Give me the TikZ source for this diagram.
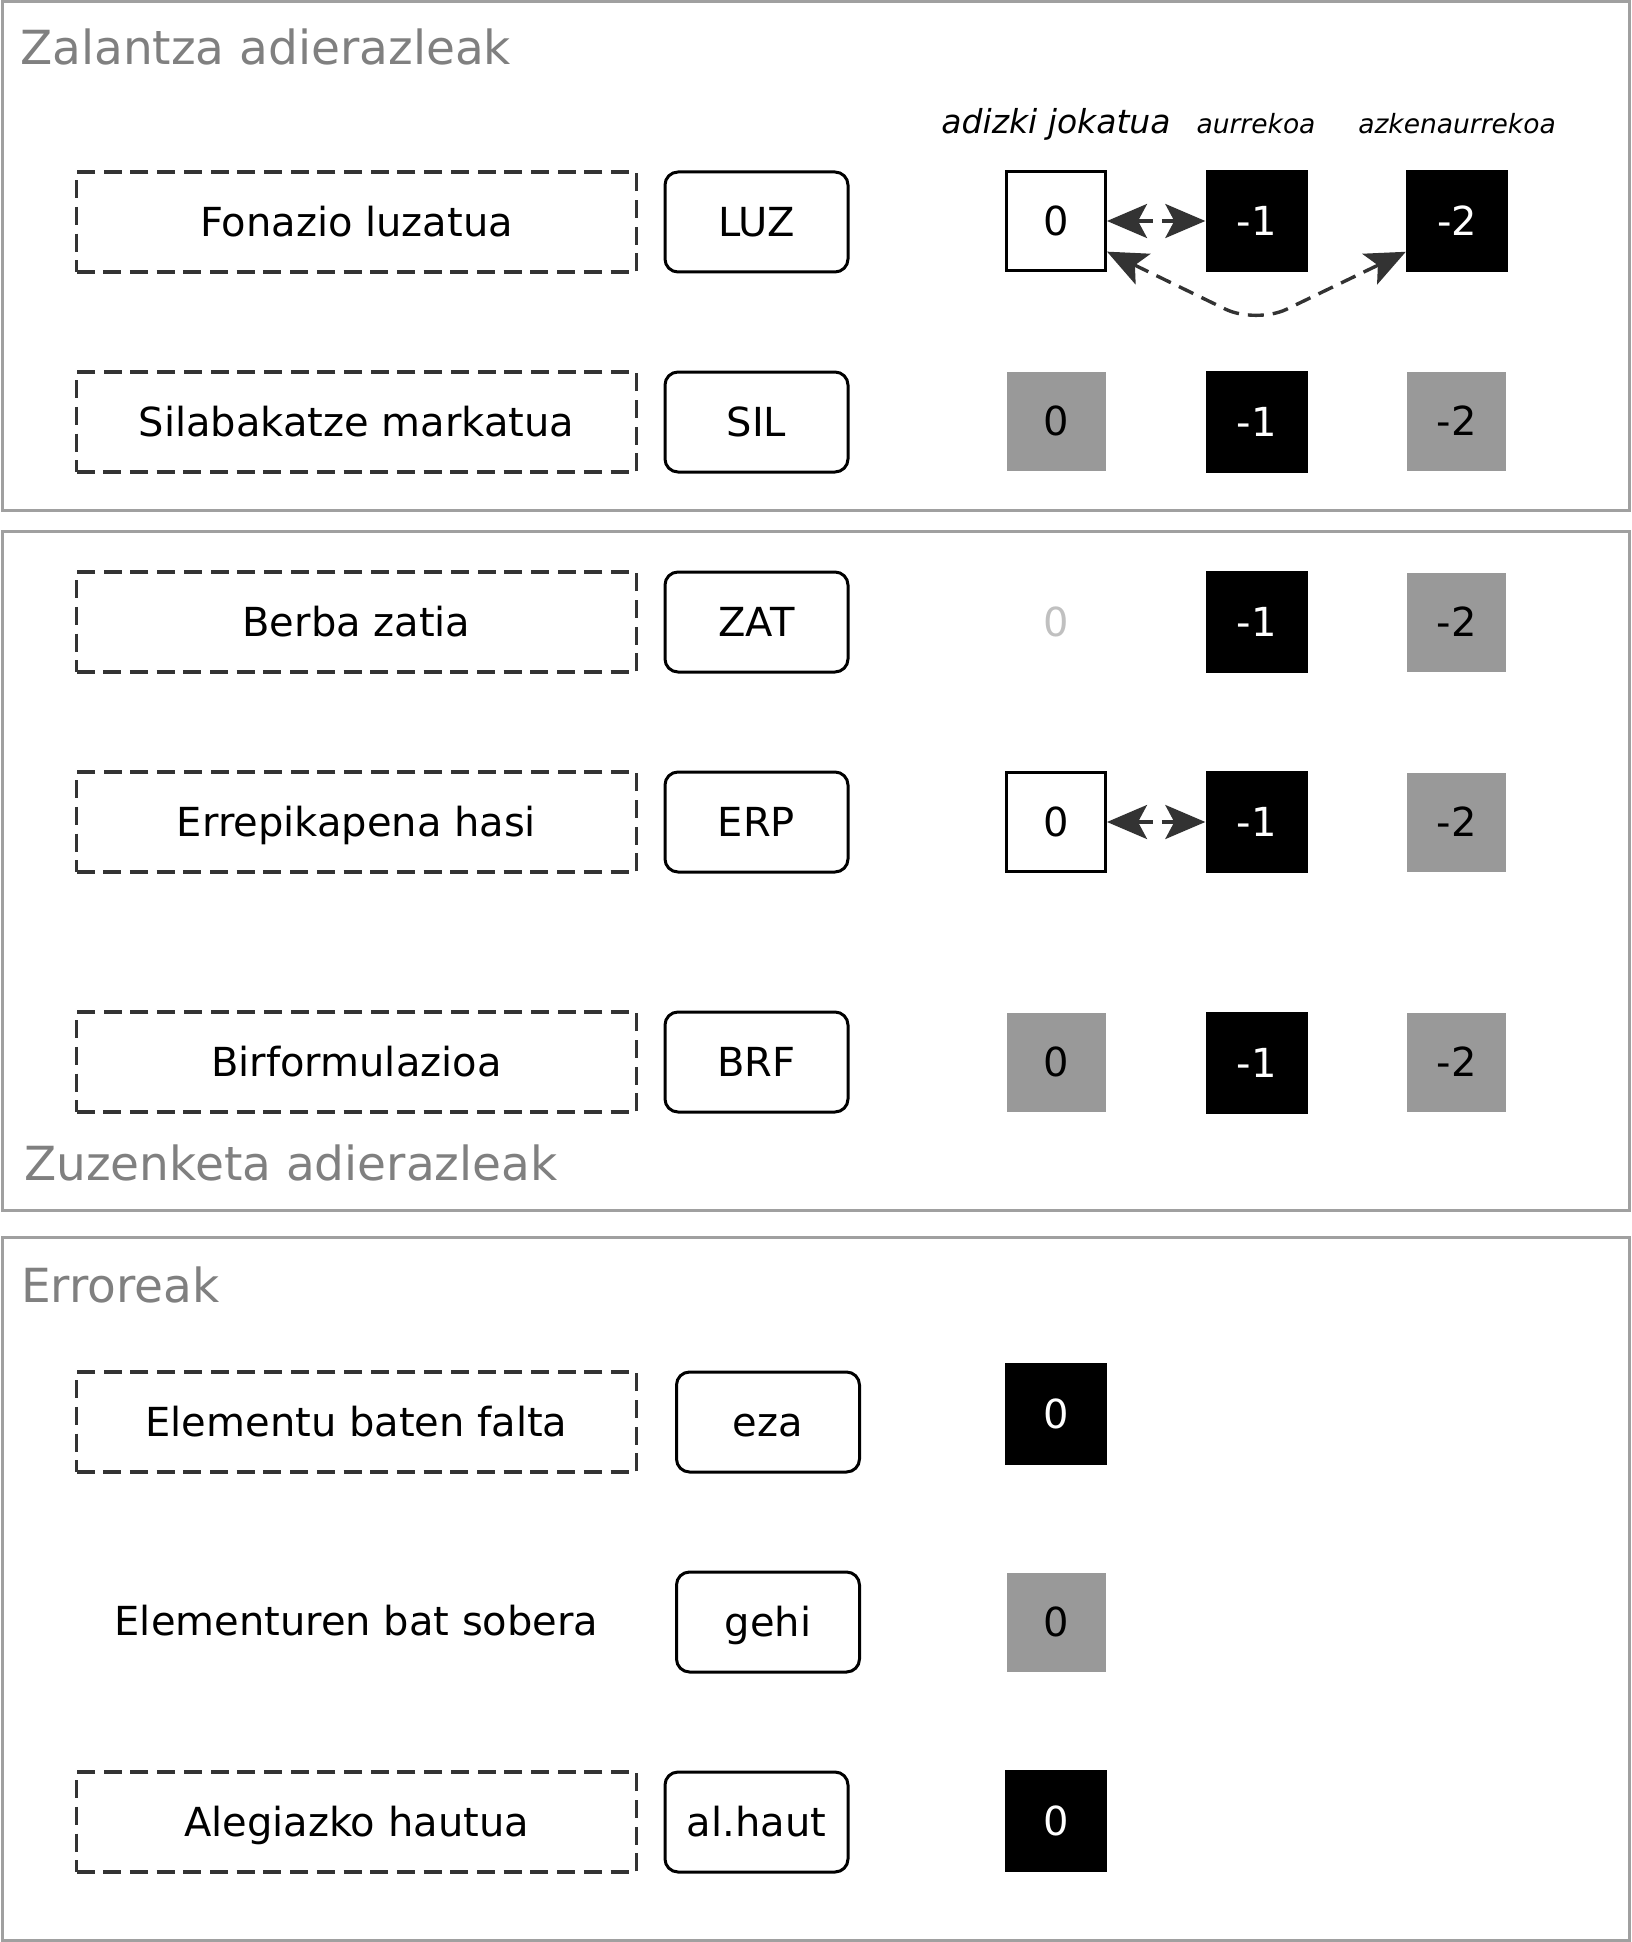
\documentclass[tikz,border=0pt]{standalone}
\usepackage{fontspec}
\setmainfont{DejaVu Sans}
\usetikzlibrary{arrows.meta}
\definecolor{secgray}{RGB}{160,160,160}
\definecolor{titlegray}{RGB}{128,128,128}
\definecolor{dashgray}{RGB}{51,51,51}
\definecolor{sqgray}{RGB}{153,153,153}
\definecolor{faint}{RGB}{192,192,192}
\begin{document}
\begin{tikzpicture}[x=1pt,y=-1pt,
  txt/.style={font=\fontsize{40}{48}\selectfont, inner sep=0pt, text height=29.2pt, text depth=0pt},
  sectitle/.style={font=\fontsize{47}{56}\selectfont, text=titlegray, inner sep=0pt, anchor=base west},
  colhead/.style={font=\fontsize{33}{40}\selectfont\itshape, inner sep=0pt, anchor=base},
  subhead/.style={font=\fontsize{26.5}{32}\selectfont\itshape, inner sep=0pt, anchor=base},
  secbox/.style={draw=secgray, line width=3pt},
  lbl/.style={txt, draw=dashgray, line width=3.2pt, dash pattern=on 18pt off 8.7pt, minimum width=560pt, minimum height=100pt},
  codebox/.style={txt, draw=black, line width=3pt, rounded corners=13pt, minimum width=183pt, minimum height=100pt},
  blk/.style={txt, fill=black, text=white, minimum size=102pt},
  gry/.style={txt, fill=sqgray, text=black, minimum size=99pt},
  wht/.style={txt, draw=black, line width=3pt, fill=white, minimum size=99pt},
  arr/.style={draw=dashgray, line width=3.4pt, dash pattern=on 16pt off 9pt,
    {Stealth[length=40pt,width=34pt,inset=9pt,fill=dashgray]}-{Stealth[length=40pt,width=34pt,inset=9pt,fill=dashgray]}}
]
\useasboundingbox (0,0) rectangle (1631,1942);
% section frames
\draw[secbox] (2,2) rectangle (1629,510);
\draw[secbox] (2,531) rectangle (1629,1210);
\draw[secbox] (2,1237) rectangle (1629,1940);
% section titles
\node[sectitle] (t1) at (20,65) {Zalantza adierazleak};
\node[sectitle] (t2) at (24,1180) {Zuzenketa adierazleak};
\node[sectitle] (t3) at (21,1302) {Erroreak};
% column headers
\node[colhead] (h0) at (1056,134) {adizki jokatua};
\node[subhead] (h1) at (1256,134) {aurrekoa};
\node[subhead] (h2) at (1457,134) {azkenaurrekoa};
% row 1
\node[lbl] (l1) at (356.5,222) {Fonazio luzatua};
\node[codebox] (c1) at (756.5,222) {LUZ};
\node[wht] (a1) at (1056,221) {0};
\node[blk] (b1) at (1256.5,221) {-1};
\node[blk] (d1) at (1457,221) {-2};
% row 2
\node[lbl] (l2) at (356.5,422) {Silabakatze markatua};
\node[codebox] (c2) at (756.5,422) {SIL};
\node[gry] (a2) at (1056,421) {0};
\node[blk] (b2) at (1256.5,422) {-1};
\node[gry] (d2) at (1456.5,421) {-2};
% row 3
\node[lbl] (l3) at (356.5,622) {Berba zatia};
\node[codebox] (c3) at (756.5,622) {ZAT};
\node[txt, text=faint] (a3) at (1056,622) {0};
\node[blk] (b3) at (1256.5,622) {-1};
\node[gry] (d3) at (1456.5,622) {-2};
% row 4
\node[lbl] (l4) at (356.5,822) {Errepikapena hasi};
\node[codebox] (c4) at (756.5,822) {ERP};
\node[wht] (a4) at (1056,822) {0};
\node[blk] (b4) at (1256.5,822) {-1};
\node[gry] (d4) at (1456.5,822) {-2};
% row 5
\node[lbl] (l5) at (356.5,1062) {Birformulazioa};
\node[codebox] (c5) at (756.5,1062) {BRF};
\node[gry] (a5) at (1056,1062) {0};
\node[blk] (b5) at (1256.5,1063) {-1};
\node[gry] (d5) at (1456.5,1062) {-2};
% errors
\node[lbl] (l6) at (356.5,1422) {Elementu baten falta};
\node[codebox] (c6) at (768,1422) {eza};
\node[blk] (a6) at (1056,1414) {0};
\node[txt] (l7) at (356.5,1621) {Elementuren bat sobera};
\node[codebox] (c7) at (768,1622) {gehi};
\node[gry] (a7) at (1056,1622) {0};
\node[lbl] (l8) at (356.5,1822) {Alegiazko hautua};
\node[codebox] (c8) at (756.5,1822) {al.haut};
\node[blk] (a8) at (1056,1821) {0};
% connectors
\coordinate (bend) at (1256,324);
\draw[arr] (a1.east) -- (b1.west);
\draw[arr, rounded corners=34pt] (a1.-31) -- (bend) -- (d1.-149);
\draw[arr] (a4.east) -- (b4.west);
\end{tikzpicture}
\end{document}
